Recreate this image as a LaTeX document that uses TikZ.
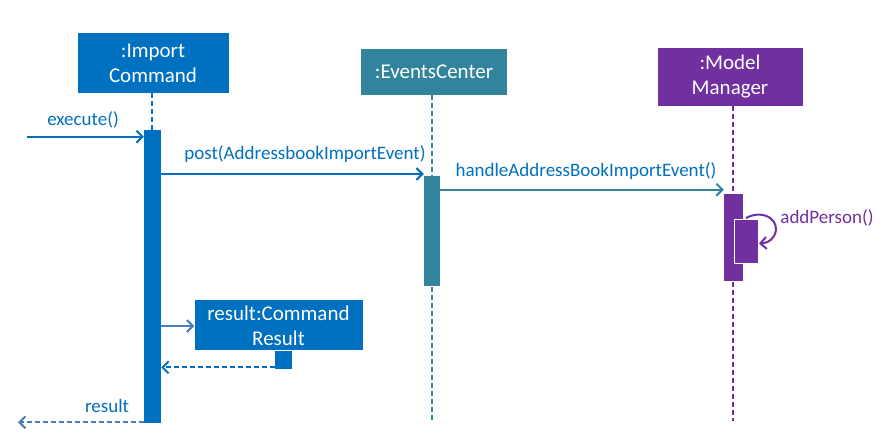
\documentclass[tikz,border=0pt]{standalone}
\usepackage{fontspec}
\setmainfont{Carlito}
\usetikzlibrary{arrows.meta}
\definecolor{cblue}{HTML}{0070C0}
\definecolor{cteal}{HTML}{31849B}
\definecolor{cpurple}{HTML}{7030A0}
\definecolor{cline}{HTML}{4A7EBB}
\tikzset{
  objbox/.style={rectangle, inner sep=0pt, align=center, text=white, font=\fontsize{21}{25}\selectfont},
  actbar/.style={rectangle, inner sep=0pt, minimum width=17pt},
  lifeline/.style={line width=2pt, dash pattern=on 5pt off 3pt},
  msg/.style={line width=2pt, -{Straight Barb[length=6pt,width=12pt,line width=2pt]}},
  retmsg/.style={msg, dash pattern=on 5pt off 3pt},
  lbl/.style={font=\fontsize{19}{22}\selectfont, inner sep=0pt}
}
\begin{document}
\begin{tikzpicture}[x=1pt,y=-1pt]
\useasboundingbox (0,0) rectangle (887,439);
% object boxes
\node[objbox, fill=cblue, minimum width=151pt, minimum height=60pt] (ic) at (153,63) {:Import\\Command};
\node[objbox, fill=cteal, minimum width=146pt, minimum height=46pt] (ec) at (434,72) {:EventsCenter};
\node[objbox, fill=cpurple, minimum width=145pt, minimum height=58pt] (mm) at (730,77) {:Model\\Manager};
% lifeline ends
\coordinate (icTop) at (152,93);
\coordinate (ecTop) at (432,95);
\coordinate (ecEnd) at (432,421);
\coordinate (mmTop) at (733,106);
\coordinate (mmEnd) at (733,421);
% lifelines
\draw[lifeline, cblue] (icTop) -- (152,130);
\draw[lifeline, cteal] (ecTop) -- (ecEnd);
\draw[lifeline, cpurple] (mmTop) -- (mmEnd);
% activation bars
\node[actbar, fill=cblue, minimum height=293pt, minimum width=17pt] (a1) at (152.5,276.5) {};
\node[actbar, fill=cteal, minimum height=110pt, minimum width=16pt] (a2) at (432,231) {};
\node[actbar, fill=cpurple, minimum height=87pt, minimum width=19pt] (a3) at (733.5,237.5) {};
\node[actbar, fill=cpurple, draw=white, line width=1pt, minimum height=44pt, minimum width=24pt] (a4) at (746,241) {};
% result box
\node[objbox, fill=cblue, minimum width=168pt, minimum height=50pt] (rb) at (278.5,325.3) {result:Command\\Result};
\node[actbar, fill=cblue, minimum height=18pt, minimum width=17pt] (rbar) at (283.5,359.5) {};
% free ends
\coordinate (exStart) at (27,136.7);
\coordinate (resEnd) at (18,422.3);
% messages
\draw[msg, cblue] (exStart) -- (a1.west |- exStart) coordinate (exEnd);
\node[lbl, text=cblue] (exl) at (83,120) {execute()};
\draw[msg, cblue] (a1.east |- 0,174) -- (a2.west |- 0,174);
\node[lbl, text=cblue] (pl) at (305,154) {post(AddressbookImportEvent)};
\draw[msg, cteal] (a2.east |- 0,189.7) -- (a3.west |- 0,189.7);
\node[lbl, text=cblue] (hl) at (586,171) {handleAddressBookImportEvent()};
\draw[msg, cpurple] (746,218) .. controls (765,208) and (782,222) .. (774,236) .. controls (770,242) and (766,243) .. (759,243.5);
\node[lbl, text=cpurple] (apl) at (827,218) {addPerson()};
\draw[msg, cline] (a1.east |- 0,326) -- (rb.west |- 0,326);
\draw[retmsg, cblue] (rbar.west |- 0,367.3) -- (a1.east |- 0,367.3);
\draw[retmsg, cline] (a1.west |- resEnd) -- (resEnd);
\node[lbl, text=cblue] (rl) at (107,406) {result};
\end{tikzpicture}
\end{document}
